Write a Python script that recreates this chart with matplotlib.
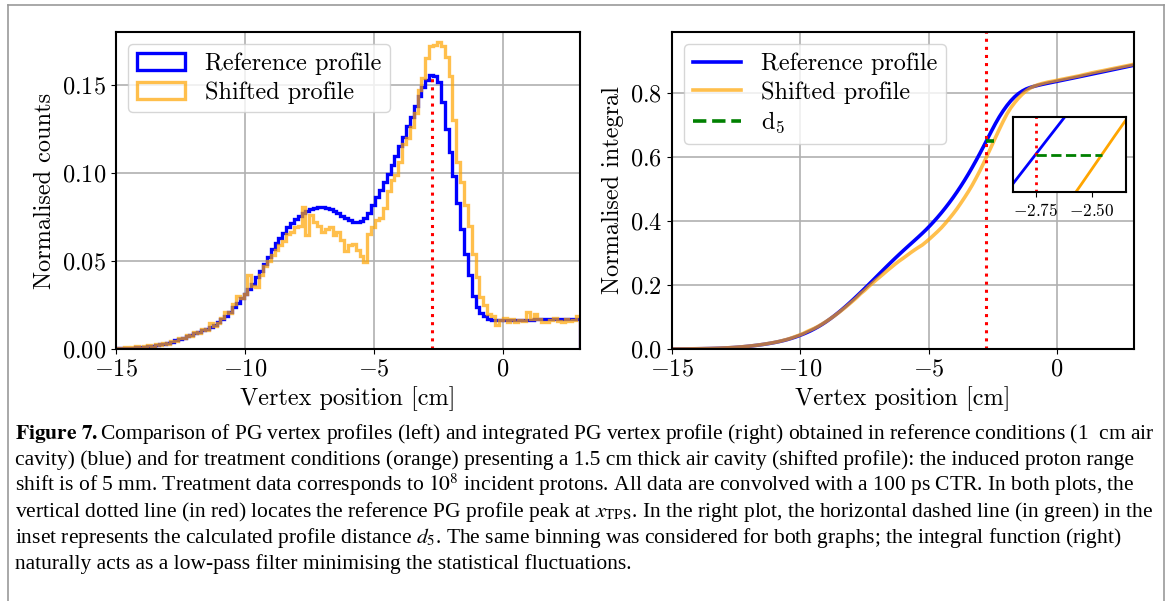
import numpy as np
import matplotlib
matplotlib.use("Agg")
import matplotlib.pyplot as plt
from matplotlib.lines import Line2D

plt.rcParams["font.family"] = "serif"
plt.rcParams["font.serif"] = ["cmr10"]
plt.rcParams["mathtext.fontset"] = "cm"
plt.rcParams["axes.formatter.use_mathtext"] = True
plt.rcParams["font.size"] = 17.5
plt.rcParams["axes.linewidth"] = 1.5

# histogram binning (cm)
bin_width = 0.15
bin_edges = np.round(np.arange(-15, 3 + bin_width / 2, bin_width), 3)

# normalised counts per bin
reference_counts = [
    0.0004, 0.0005, 0.0006, 0.0007, 0.0008, 0.0010, 0.0012, 0.0014, 0.0016, 0.0019,
    0.0022, 0.0027, 0.0031, 0.0036, 0.0042, 0.0049, 0.0057, 0.0065, 0.0073, 0.0082,
    0.0090, 0.0098, 0.0106, 0.0115, 0.0125, 0.0138, 0.0153, 0.0170, 0.0190, 0.0212,
    0.0237, 0.0262, 0.0288, 0.0312, 0.0340, 0.0370, 0.0410, 0.0445, 0.0485, 0.0525,
    0.0565, 0.0600, 0.0630, 0.0660, 0.0690, 0.0715, 0.0738, 0.0755, 0.0770, 0.0783,
    0.0795, 0.0802, 0.0806, 0.0806, 0.0802, 0.0795, 0.0785, 0.0772, 0.0758, 0.0744,
    0.0731, 0.0723, 0.0721, 0.0728, 0.0745, 0.0775, 0.0820, 0.0862, 0.0905, 0.0950,
    0.0995, 0.1045, 0.1095, 0.1150, 0.1205, 0.1265, 0.1320, 0.1380, 0.1435, 0.1490,
    0.1530, 0.1556, 0.1550, 0.1515, 0.1400, 0.1250, 0.1120, 0.0980, 0.0830, 0.0680,
    0.0540, 0.0420, 0.0300, 0.0240, 0.0205, 0.0185, 0.0172, 0.0166, 0.0164, 0.0164,
    0.0164, 0.0165, 0.0165, 0.0166, 0.0166, 0.0167, 0.0167, 0.0167, 0.0168, 0.0168,
    0.0168, 0.0168, 0.0169, 0.0169, 0.0169, 0.0169, 0.0170, 0.0170, 0.0170, 0.0170,
]
shifted_counts = [
    0.0006, 0.0003, 0.0009, 0.0005, 0.0012, 0.0017, 0.0008, 0.0015, 0.0022, 0.0013,
    0.0028, 0.0024, 0.0036, 0.0030, 0.0047, 0.0044, 0.0062, 0.0060, 0.0081, 0.0075,
    0.0095, 0.0092, 0.0113, 0.0108, 0.0146, 0.0130, 0.0150, 0.0178, 0.0212, 0.0205,
    0.0255, 0.0300, 0.0290, 0.0315, 0.0420, 0.0360, 0.0350, 0.0420, 0.0470, 0.0500,
    0.0535, 0.0560, 0.0590, 0.0615, 0.0655, 0.0665, 0.0690, 0.0700, 0.0805, 0.0650,
    0.0760, 0.0720, 0.0700, 0.0665, 0.0680, 0.0695, 0.0645, 0.0665, 0.0620, 0.0555,
    0.0590, 0.0598, 0.0560, 0.0530, 0.0495, 0.0655, 0.0690, 0.0730, 0.0745, 0.0800,
    0.0900, 0.0960, 0.0990, 0.1060, 0.1165, 0.1200, 0.1260, 0.1340, 0.1470, 0.1540,
    0.1650, 0.1720, 0.1725, 0.1745, 0.1720, 0.1660, 0.1550, 0.1300, 0.1060, 0.0950,
    0.0820, 0.0700, 0.0540, 0.0410, 0.0295, 0.0250, 0.0200, 0.0185, 0.0135, 0.0165,
    0.0178, 0.0156, 0.0168, 0.0154, 0.0164, 0.0158, 0.0208, 0.0171, 0.0196, 0.0168,
    0.0156, 0.0151, 0.0166, 0.0174, 0.0161, 0.0156, 0.0168, 0.0159, 0.0164, 0.0186,
]
x_tps = -2.75

caption_lines = [
    r"$\mathbf{Figure\ 7.}$Comparison of PG vertex profiles (left) and integrated PG vertex profile (right) obtained in reference conditions (1  cm air",
    "cavity) (blue) and for treatment conditions (orange) presenting a 1.5 cm thick air cavity (shifted profile): the induced proton range",
    r"shift is of 5 mm. Treatment data corresponds to $10^{8}$ incident protons. All data are convolved with a 100 ps CTR. In both plots, the",
    r"vertical dotted line (in red) locates the reference PG profile peak at $x_{\mathrm{TPS}}$. In the right plot, the horizontal dashed line (in green) in the",
    r"inset represents the calculated profile distance $d_{5}$. The same binning was considered for both graphs; the integral function (right)",
    "naturally acts as a low-pass filter minimising the statistical fluctuations.",
]

ref_integral = np.concatenate([[0], np.cumsum(reference_counts) * bin_width])
shift_integral = np.concatenate([[0], np.cumsum(shifted_counts) * bin_width])
g = np.interp(x_tps, bin_edges, ref_integral)
x_cross = np.interp(g, shift_integral, bin_edges)

W, H = 1170, 601
fig = plt.figure(figsize=(W / 100, H / 100), dpi=100)

# left: profiles
ax1 = fig.add_axes([116 / W, 1 - 349 / H, 464 / W, 317 / H])
ax1.hist(bin_edges[:-1], bins=bin_edges, weights=reference_counts, histtype="step",
         color="blue", lw=2.4, label="Reference profile")
ax1.hist(bin_edges[:-1], bins=bin_edges, weights=shifted_counts, histtype="step",
         color="orange", lw=2.4, alpha=0.7, label="Shifted profile")
ax1.vlines(x_tps, 0, max(reference_counts), colors="red", linestyles=":", lw=2.2)
ax1.set_xlim(-15, 3)
ax1.set_ylim(0, 0.18)
ax1.set_yticks([0, 0.05, 0.10, 0.15])
ax1.grid(True, color="#b0b0b0", lw=1.2)
ax1.set_xlabel("Vertex position [cm]")
ax1.set_ylabel("Normalised counts")
ax1.legend(loc="upper left", labelspacing=0.25, borderpad=0.35)

# right: integrals
ax2 = fig.add_axes([672 / W, 1 - 349 / H, 462 / W, 317 / H])
ax2.plot(bin_edges, ref_integral, color="blue", lw=2.6, label="Reference profile")
ax2.plot(bin_edges, shift_integral, color="orange", lw=2.6, alpha=0.7, label="Shifted profile")
ax2.axvline(x_tps, color="red", ls=":", lw=2.2)
ax2.plot([x_tps, x_cross], [g, g], color="green", ls="--", lw=2.6, label="d$_5$")
ax2.set_xlim(-15, 3)
ax2.set_ylim(0, 0.99)
ax2.grid(True, color="#b0b0b0", lw=1.2)
ax2.set_xlabel("Vertex position [cm]")
ax2.set_ylabel("Normalised integral")
ax2.legend(loc="upper left", labelspacing=0.25, borderpad=0.35)

# inset
axins = fig.add_axes([1013 / W, 1 - 192 / H, 113 / W, 75 / H])
axins.plot(bin_edges, ref_integral, color="blue", lw=2)
axins.plot(bin_edges, shift_integral, color="orange", lw=2)
axins.axvline(x_tps, color="red", ls=":", lw=2)
axins.plot([x_tps, x_cross], [g, g], color="green", ls="--", lw=2)
axins.set_xlim(-2.85, -2.35)
axins.set_ylim(g - 0.02, g + 0.02)
axins.set_xticks([-2.75, -2.50])
axins.set_yticks([])
axins.tick_params(labelsize=12.5)
for s in axins.spines.values():
    s.set_linewidth(1.5)

# frame around figure + caption
for xs, ys in [([7.5, 7.5], [601, 5]), ([7.5, 1164], [5, 5]), ([1164, 1164], [5, 601])]:
    fig.add_artist(Line2D([x / W for x in xs], [1 - y / H for y in ys],
                          transform=fig.transFigure, color="#999999", lw=1.2))

renderer = fig.canvas.get_renderer()
probe = fig.text(0, 0, caption_lines[0], family=["Liberation Serif"], math_fontfamily="stix", fontsize=12)
cap_size = 12 * 1135 / probe.get_window_extent(renderer).width
probe.remove()
for k, line in enumerate(caption_lines):
    fig.text(15 / W, 1 - (439 + 26 * k) / H, line, family=["Liberation Serif"],
             math_fontfamily="stix", fontsize=cap_size, va="baseline", ha="left")

fig.savefig("out.png", dpi=100)
